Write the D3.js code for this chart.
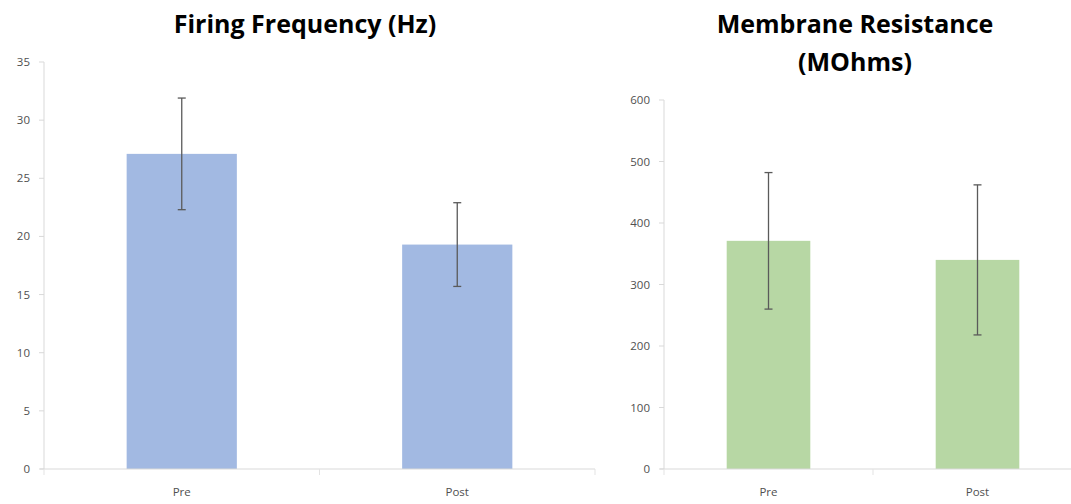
<!DOCTYPE html>
<html>
<head>
<meta charset="utf-8">
<script src="https://cdn.jsdelivr.net/npm/d3@7"></script>
<style>
  body { margin: 0; background: #fff; }
  svg { display: block; }
  .tick-label { font-family: "Open Sans", "Liberation Sans", sans-serif; font-size: 11.5px; fill: #505050; }
  .title { font-family: "Open Sans", "Liberation Sans", sans-serif; font-size: 25px; font-weight: bold; fill: #000; }
</style>
</head>
<body>
<svg id="chart" width="1071" height="504"></svg>
<script>
// Data
const categories = ["Pre", "Post"];

const firingMeans = [27.1, 19.3];
const firingErrors = [4.8, 3.6];
const firingTicks = [0, 5, 10, 15, 20, 25, 30, 35];

const resistanceMeans = [371, 340];
const resistanceErrors = [111, 122];
const resistanceTicks = [0, 100, 200, 300, 400, 500, 600];

const svg = d3.select("#chart");

// Draw one bar panel
function drawPanel(opts) {
  const g = svg.append("g");

  const x = d3
    .scaleBand()
    .domain(categories)
    .range([opts.x0, opts.x1])
    .paddingInner(0.6)
    .paddingOuter(0.3);

  const y = d3
    .scaleLinear()
    .domain([0, opts.yMax])
    .range([opts.yBottom, opts.yTop]);

  // y axis line + ticks
  g.append("line")
    .attr("x1", opts.x0).attr("x2", opts.x0)
    .attr("y1", y(0)).attr("y2", y(opts.yMax))
    .attr("stroke", "#d9d9d9").attr("stroke-width", 1);

  g.selectAll(".ytick")
    .data(opts.ticks)
    .enter()
    .append("line")
    .attr("x1", opts.x0 - 5).attr("x2", opts.x0)
    .attr("y1", (d) => y(d)).attr("y2", (d) => y(d))
    .attr("stroke", "#d9d9d9");

  g.selectAll(".ylabel")
    .data(opts.ticks)
    .enter()
    .append("text")
    .attr("class", "tick-label")
    .attr("x", opts.x0 - 14)
    .attr("y", (d) => y(d))
    .attr("dy", "0.35em")
    .attr("text-anchor", "end")
    .text((d) => d);

  // bars
  g.selectAll(".bar")
    .data(opts.means)
    .enter()
    .append("rect")
    .attr("x", (d, i) => x(categories[i]))
    .attr("y", (d) => y(d))
    .attr("width", x.bandwidth())
    .attr("height", (d) => y(0) - y(d))
    .attr("fill", opts.color);

  // x axis line with category boundary ticks
  g.append("line")
    .attr("x1", opts.x0 - 4).attr("x2", opts.x1)
    .attr("y1", y(0)).attr("y2", y(0))
    .attr("stroke", "#d9d9d9");

  const step = (opts.x1 - opts.x0) / categories.length;
  g.selectAll(".xtick")
    .data(d3.range(categories.length + 1))
    .enter()
    .append("line")
    .attr("x1", (d) => opts.x0 + d * step)
    .attr("x2", (d) => opts.x0 + d * step)
    .attr("y1", y(0)).attr("y2", y(0) + 6)
    .attr("stroke", "#e3e3e3");

  g.selectAll(".xlabel")
    .data(categories)
    .enter()
    .append("text")
    .attr("class", "tick-label")
    .attr("x", (d) => x(d) + x.bandwidth() / 2)
    .attr("y", y(0) + 27)
    .attr("text-anchor", "middle")
    .text((d) => d);

  // error bars
  const err = g.selectAll(".err")
    .data(opts.means)
    .enter()
    .append("g")
    .attr("stroke", "#5a5a5a")
    .attr("stroke-width", 1.3);

  const cx = (i) => x(categories[i]) + x.bandwidth() / 2;

  err.append("line")
    .attr("x1", (d, i) => cx(i)).attr("x2", (d, i) => cx(i))
    .attr("y1", (d, i) => y(d + opts.errors[i]))
    .attr("y2", (d, i) => y(d - opts.errors[i]));

  err.append("line")
    .attr("x1", (d, i) => cx(i) - 4).attr("x2", (d, i) => cx(i) + 4)
    .attr("y1", (d, i) => y(d + opts.errors[i]))
    .attr("y2", (d, i) => y(d + opts.errors[i]));

  err.append("line")
    .attr("x1", (d, i) => cx(i) - 4).attr("x2", (d, i) => cx(i) + 4)
    .attr("y1", (d, i) => y(d - opts.errors[i]))
    .attr("y2", (d, i) => y(d - opts.errors[i]));

  // title
  const title = g.append("text")
    .attr("class", "title")
    .attr("x", opts.titleX)
    .attr("y", opts.titleY)
    .attr("text-anchor", "middle");

  opts.title.forEach((line, i) => {
    title.append("tspan")
      .attr("x", opts.titleX)
      .attr("dy", i === 0 ? 0 : 38)
      .text(line);
  });
}

drawPanel({
  x0: 44,
  x1: 595,
  yTop: 62,
  yBottom: 469,
  yMax: 35,
  ticks: firingTicks,
  means: firingMeans,
  errors: firingErrors,
  color: "#a2b9e2",
  title: ["Firing Frequency (Hz)"],
  titleX: 305,
  titleY: 33
});

drawPanel({
  x0: 664,
  x1: 1082,
  yTop: 100,
  yBottom: 469,
  yMax: 600,
  ticks: resistanceTicks,
  means: resistanceMeans,
  errors: resistanceErrors,
  color: "#b7d7a4",
  title: ["Membrane Resistance", "(MOhms)"],
  titleX: 855,
  titleY: 33
});
</script>
</body>
</html>
